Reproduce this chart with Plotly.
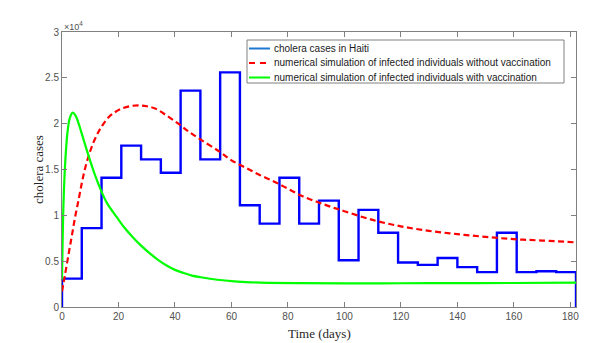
import plotly.graph_objects as go

# weekly reported cholera cases (step plot)
week_edges = [0, 7, 14, 21, 28, 35, 42, 49, 56, 63, 70, 77, 84, 91, 98,
              105, 112, 119, 126, 133, 140, 147, 154, 161, 168, 175, 182]
weekly_cases = [3100, 8600, 14100, 17600, 16100, 14650, 23600, 16100, 25600, 11100,
                9100, 14100, 9100, 11600, 5100, 10600, 8100, 4850, 4600, 5350,
                4350, 3800, 8100, 3800, 3900, 3800]

# simulation without vaccination
novac_days = [0, 1, 2.35, 3.5, 4.7, 6, 7, 8, 9.4, 11, 12.9, 14.5, 16.5, 19, 21.2, 24,
              27, 30, 33, 37, 41.2, 45, 49.4, 56, 60, 65, 70, 75, 80, 85, 90, 95,
              100, 110, 120, 130, 140, 150, 160, 170, 182]
novac_cases = [1700, 3400, 5800, 7800, 9900, 11900, 13500, 14900, 16450, 17850, 19100,
               19900, 20700, 21300, 21650, 21900, 22000, 21900, 21650, 20900, 20000,
               19100, 18200, 16900, 16000, 15200, 14400, 13700, 12900, 12100, 11500,
               10950, 10450, 9500, 8800, 8300, 7950, 7650, 7400, 7250, 7050]

# simulation with vaccination
vac_days = [0, 0.5, 1, 1.5, 2, 2.75, 3.75, 4.75, 6, 7.5, 9.5, 11.5, 13.5, 16, 19.4,
            22, 25.4, 28, 31.3, 34, 37.2, 40, 43.1, 46, 49.1, 55, 61, 67, 73, 85,
            100, 120, 140, 160, 182]
vac_cases = [3000, 11000, 15000, 17500, 19200, 20600, 21200, 20900, 19900, 18400,
             16400, 14550, 12950, 11300, 9800, 8700, 7500, 6700, 5800, 5150, 4500,
             4050, 3700, 3430, 3250, 2970, 2790, 2690, 2640, 2600, 2580, 2590, 2600,
             2620, 2650]

y_ticks = [0, 5000, 10000, 15000, 20000, 25000, 30000]
y_labels = ["0", "0.5", "1", "1.5", "2", "2.5", "3"]
x_ticks = [0, 20, 40, 60, 80, 100, 120, 140, 160, 180]

legend_names = ["cholera cases in Haiti",
                "numerical simulation of infected individuals without vaccination",
                "numerical simulation of infected individuals with vaccination"]
legend_colors = ["#1E78D2", "#FF0000", "#00FF00"]
legend_dashes = ["solid", "6px,5px", "solid"]

# page body has an 8px margin, so the figure is shrunk to fit the window
OFF = 8
W, H = 609 - OFF, 343 - OFF
L, R, T, B = 62 - OFF, 33, 32 - OFF, 36


def px(x):
    # screen pixel -> paper coordinate
    return (x - OFF - L) / (W - L - R)


def py(y):
    return (H - B - (y - OFF)) / (H - T - B)


# step trace: start from 0, end back at 0
step_x = [week_edges[0]] + week_edges + [week_edges[-1]]
step_y = [0] + weekly_cases + [weekly_cases[-1], 0]

fig = go.Figure()
fig.add_trace(go.Scatter(x=step_x, y=step_y, mode="lines", line_shape="hv",
                         line=dict(color="#0000FF", width=2.4)))
fig.add_trace(go.Scatter(x=novac_days, y=novac_cases, mode="lines", line_shape="spline",
                         line=dict(color="#FF0000", width=2.2, dash="6px,3.5px")))
fig.add_trace(go.Scatter(x=vac_days, y=vac_cases, mode="lines", line_shape="spline",
                         line=dict(color="#00FF00", width=2.2)))

# legend drawn by hand (MATLAB-like compact box)
shapes = [dict(type="rect", xref="paper", yref="paper", x0=px(247), x1=px(564),
               y0=py(83), y1=py(40), line=dict(color="#808080", width=1),
               fillcolor="white", layer="above")]
annotations = []
rows = [48.5, 63, 77.5]
for name, color, dash, row in zip(legend_names, legend_colors, legend_dashes, rows):
    shapes.append(dict(type="line", xref="paper", yref="paper", x0=px(249), x1=px(270),
                       y0=py(row), y1=py(row), layer="above",
                       line=dict(color=color, width=2, dash=dash)))
    annotations.append(dict(text=name, xref="paper", yref="paper", x=px(272), y=py(row),
                            xanchor="left", yanchor="middle", showarrow=False,
                            font=dict(family="Liberation Sans, Arial", size=10,
                                      color="#1a1a1a")))

annotations.append(dict(text="×10<sup>4</sup>", x=0, y=1, xref="paper", yref="paper",
                        xanchor="left", yanchor="bottom", showarrow=False, yshift=-2,
                        font=dict(family="Liberation Sans, Arial", size=9, color="#505050")))

title_font = dict(family="Liberation Serif, Times New Roman", size=13, color="#262626")
annotations.append(dict(text="Time (days)", x=0.5, y=py(333), xref="paper", yref="paper",
                        xanchor="center", yanchor="middle", showarrow=False,
                        font=title_font))
annotations.append(dict(text="cholera cases", x=px(38.5), y=0.5, xref="paper",
                        yref="paper", xanchor="center", yanchor="middle",
                        showarrow=False, textangle=-90, font=title_font))

axis_common = dict(showline=True, linecolor="#808080", linewidth=1, mirror="ticks",
                   ticks="inside", ticklen=5, tickcolor="#808080", showgrid=False,
                   zeroline=False, automargin=False,
                   tickfont=dict(family="Liberation Sans, Arial", size=10, color="#505050"))

fig.update_layout(
    width=W, height=H, showlegend=False,
    paper_bgcolor="white", plot_bgcolor="white",
    margin=dict(l=L, r=R, t=T, b=B),
    xaxis=dict(range=[0, 182], tickvals=x_ticks, **axis_common),
    yaxis=dict(range=[0, 30000], tickvals=y_ticks, ticktext=y_labels, **axis_common),
    shapes=shapes,
    annotations=annotations,
)

fig.write_html("out.html")
